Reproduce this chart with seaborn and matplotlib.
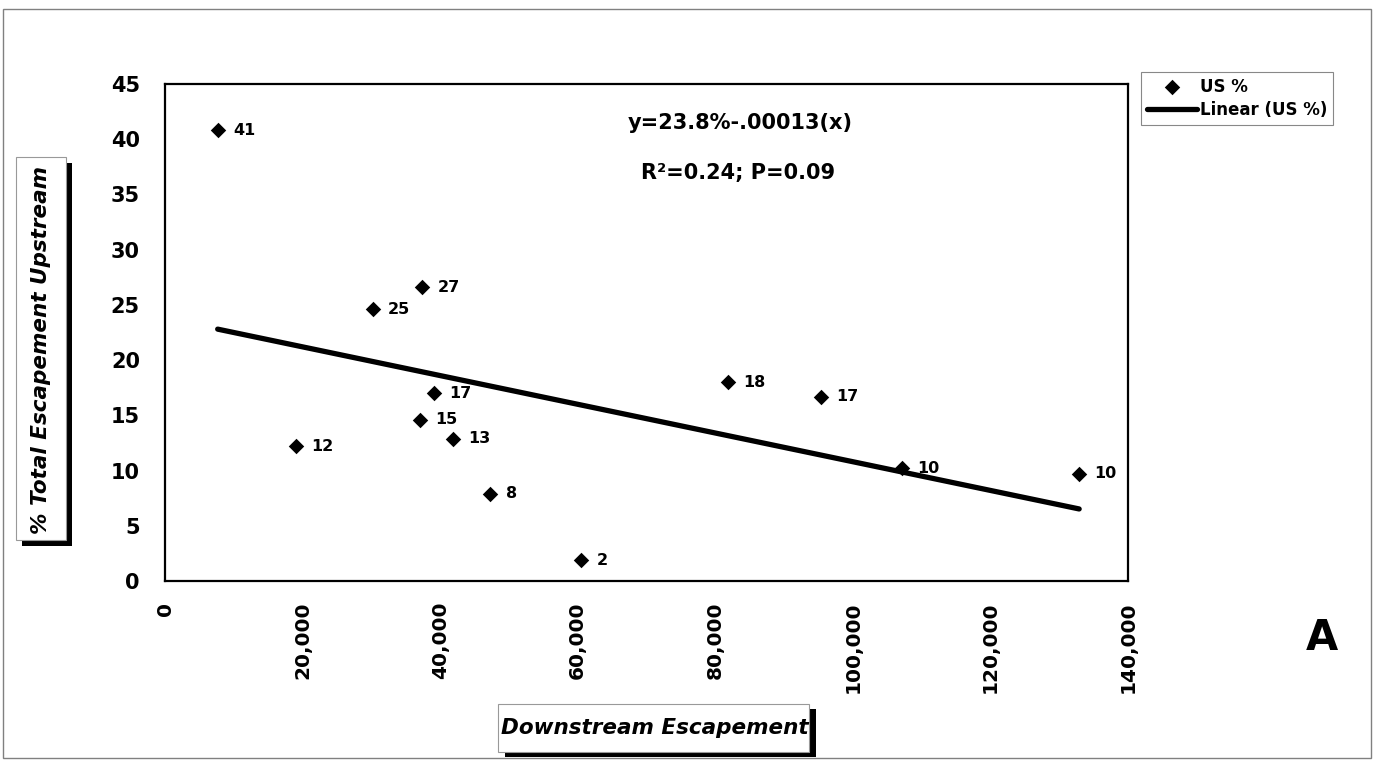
import matplotlib
matplotlib.use("Agg")
import matplotlib.pyplot as plt
from matplotlib.patches import Rectangle
import pandas as pd
import seaborn as sns

# Downstream escapement (fish) and share of total escapement found upstream (%)
downstream = [7660, 19000, 30200, 37000, 37400, 39100, 41900, 47300, 60500,
              81900, 95300, 107100, 132900]
upstream_pct = [40.8, 12.2, 24.6, 14.6, 26.6, 17.0, 12.9, 7.9, 1.9,
                18.0, 16.7, 10.2, 9.7]

# Fitted linear trend: intercept (%) and slope (% per fish)
trend_intercept = 23.8
trend_slope = -0.00013

x_ticks = [0, 20000, 40000, 60000, 80000, 100000, 120000, 140000]
x_tick_labels = ["0", "20,000", "40,000", "60,000", "80,000", "100,000",
                 "120,000", "140,000"]
y_ticks = [0, 5, 10, 15, 20, 25, 30, 35, 40, 45]

W, H = 1377, 761

sns.set_style("white")
plt.rcParams["font.family"] = ["DejaVu Sans"]
plt.rcParams["font.weight"] = "bold"
plt.rcParams["text.color"] = "black"
plt.rcParams["axes.labelcolor"] = "black"
plt.rcParams["xtick.color"] = "black"
plt.rcParams["ytick.color"] = "black"

df = pd.DataFrame({"Downstream": downstream, "US": upstream_pct})
df["label"] = [f"{v:.0f}" for v in upstream_pct]

x_ends = [min(downstream), max(downstream)]
trend = pd.DataFrame({"x": x_ends,
                      "y": [trend_intercept + trend_slope * x for x in x_ends]})

fig = plt.figure(figsize=(W / 100, H / 100), dpi=100)
fig.patch.set_facecolor("white")


def fx(px):
    return px / W


def fy(py):
    return 1 - py / H


ax = fig.add_axes([fx(165), fy(581), fx(1128) - fx(165), fy(84) - fy(581)])

sns.scatterplot(data=df, x="Downstream", y="US", marker="D", s=62,
                color="black", linewidth=0, ax=ax, label="US %", zorder=4)
sns.lineplot(data=trend, x="x", y="y", color="black", linewidth=3.8,
             ax=ax, label="Linear (US %)", zorder=3)

for xv, yv, lab in zip(df["Downstream"], df["US"], df["label"]):
    ax.annotate(lab, (xv, yv), xytext=(11, 0), textcoords="offset points",
                ha="left", va="center", fontsize=11.5, fontweight="bold",
                color="black", zorder=2)

ax.set_xlim(0, 140000)
ax.set_ylim(0, 45)
ax.set_xticks(x_ticks)
ax.set_xticklabels(x_tick_labels, rotation=90, fontsize=14.5,
                   fontweight="bold")
ax.set_yticks(y_ticks)
ax.set_yticklabels([str(v) for v in y_ticks], fontsize=15,
                   fontweight="bold")
ax.tick_params(axis="x", direction="out", length=7, width=1, pad=8)
ax.tick_params(axis="y", direction="out", length=6, width=1, pad=12)
ax.set_xlabel("")
ax.set_ylabel("")
for sp in ax.spines.values():
    sp.set_visible(True)
    sp.set_color("black")
    sp.set_linewidth(1.6)

ax.legend(loc="upper left", bbox_to_anchor=(fx(1141), fy(72)),
          bbox_transform=fig.transFigure, frameon=True, fancybox=False,
          edgecolor="#888888", framealpha=1, borderaxespad=0,
          prop={"weight": "bold", "size": 12}, handlelength=3.0,
          handletextpad=0.2, borderpad=0.35, labelspacing=0.3)
ax.get_legend().get_frame().set_linewidth(0.8)

# Regression summary
fig.text(fx(740), fy(123), "y=23.8%-.00013(x)", ha="center", va="center",
         fontsize=15, fontweight="bold")
fig.text(fx(738), fy(173), "R²=0.24; P=0.09", ha="center", va="center",
         fontsize=15, fontweight="bold")


def shadow_box(x0, y0, x1, y1, dx, dy):
    fig.add_artist(Rectangle((fx(x0 + dx), fy(y1 + dy)), fx(x1 - x0),
                             fy(y0) - fy(y1), transform=fig.transFigure,
                             facecolor="black", edgecolor="none"))
    fig.add_artist(Rectangle((fx(x0), fy(y1)), fx(x1 - x0),
                             fy(y0) - fy(y1), transform=fig.transFigure,
                             facecolor="white", edgecolor="#999999",
                             linewidth=0.8))


# Boxed axis titles with drop shadows
shadow_box(16, 157, 66, 540, 6, 6)
fig.text(fx(41), fy(350), "% Total Escapement Upstream", rotation=90,
         ha="center", va="center", fontsize=15.5, fontweight="bold",
         fontstyle="italic")

shadow_box(498, 704, 809, 752, 7, 5)
fig.text(fx(655), fy(728), "Downstream Escapement", ha="center",
         va="center", fontsize=15.5, fontweight="bold", fontstyle="italic")

# Panel letter
fig.text(fx(1322), fy(638), "A", ha="center", va="center", fontsize=30,
         fontweight="bold")

# Outer frame
fig.add_artist(Rectangle((fx(3), fy(758)), fx(1371 - 3), fy(9) - fy(758),
                         transform=fig.transFigure, facecolor="none",
                         edgecolor="#808080", linewidth=1.0))

fig.savefig("out.png", dpi=100, facecolor="white")
